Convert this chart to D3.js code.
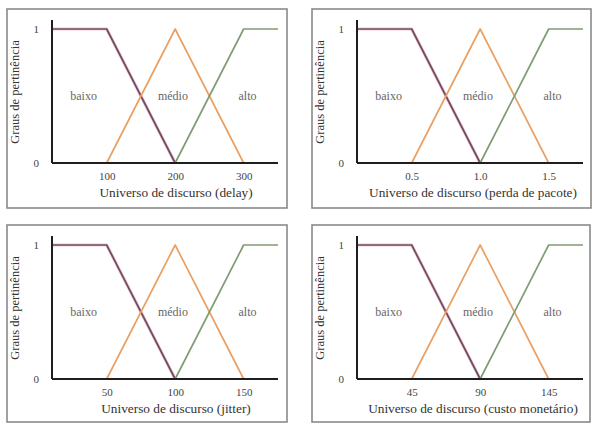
<!DOCTYPE html>
<html><head><meta charset="utf-8">
<script src="https://cdn.jsdelivr.net/npm/d3@7"></script>
<style>
body{margin:0;background:#fff;}
svg{display:block;}
svg text{font-family:"Liberation Serif","Times New Roman",serif;}
</style></head>
<body>
<svg id="c" width="595" height="423"></svg>
<script>
// ---- data ----
const titles = ["Universo de discurso (delay)", "Universo de discurso (perda de pacote)", "Universo de discurso (jitter)", "Universo de discurso (custo monetário)"];
const tickLabels = [["100","200","300"],["0.5","1.0","1.5"],["50","100","150"],["45","90","145"]];
const breakpoints = [[100,200,300],[0.5,1.0,1.5],[50,100,150],[45,90,145]];
const domainMin = [20, 0.1, 10, 9];
const domainMax = [350, 1.75, 175, 172];
const categories = ["baixo","médio","alto"];
const yTicks = [0, 1];
const yLabel = "Graus de pertinência";

// membership functions (x as breakpoint index: 0=min,1=t1,2=t2,3=t3,4=max)
const mfPoints = [
  [[0,1],[1,1],[2,0]],
  [[1,0],[2,1],[3,0]],
  [[2,0],[3,1],[4,1]]
];
const colors = ["#6f4c66", "#eaa062", "#809c74"];

// ---- layout ----
const frames = [
  {x:7, y:9, w:280, h:199, tx:169},
  {x:312, y:9, w:279, h:199, tx:161},
  {x:7, y:225, w:280, h:197, tx:169},
  {x:312, y:225, w:278, h:197, tx:161}
];
const svg = d3.select("#c");

frames.forEach((f, i) => {
  const g = svg.append("g").attr("transform", `translate(${f.x},${f.y})`);
  g.append("rect").attr("x",0).attr("y",0).attr("width",f.w).attr("height",f.h)
    .attr("fill","#fff").attr("stroke","#8a8a8a").attr("stroke-width",1.6);

  const ox = 45, oy = 154, right = 271, top = 11, y1 = 20;
  const w = right - ox;
  const dom = [domainMin[i], ...breakpoints[i], domainMax[i]];
  const x = d3.scaleLinear().domain(dom)
    .range([ox, ox + w*0.242, ox + w*0.545, ox + w*0.848, right]);
  const y = d3.scaleLinear().domain([0,1]).range([oy, y1]);

  mfPoints.forEach((pts, k) => {
    const line = d3.line().x(p => x(dom[p[0]])).y(p => y(p[1]));
    if (k === 0) {
      g.append("path").attr("d", line(pts)).attr("fill","none")
        .attr("stroke","#e7a4b0").attr("stroke-width",3.2).attr("opacity",0.6);
    }
    g.append("path").attr("d", line(pts)).attr("fill","none")
      .attr("stroke", colors[k]).attr("stroke-width", 1.7).attr("stroke-linejoin","round");
  });

  g.append("line").attr("x1",ox).attr("x2",ox).attr("y1",top).attr("y2",oy)
    .attr("stroke","#1e1e1e").attr("stroke-width",2);
  g.append("line").attr("x1",ox).attr("x2",right).attr("y1",oy).attr("y2",oy)
    .attr("stroke","#1e1e1e").attr("stroke-width",2);

  const xAxis = d3.axisBottom(x).tickValues(breakpoints[i]).tickSize(0)
    .tickFormat((d, j) => tickLabels[i][j]);
  const ax = g.append("g").attr("transform",`translate(0,${oy})`).call(xAxis);
  ax.select(".domain").remove();
  ax.selectAll("text").attr("dy", "1.25em")
    .style("font-size", "11px").attr("fill","#444");

  const yAxis = d3.axisLeft(y).tickValues(yTicks).tickSize(0).tickFormat(d3.format("d"));
  const ay = g.append("g").attr("transform",`translate(${ox},0)`).call(yAxis);
  ay.select(".domain").remove();
  ay.selectAll("text").attr("dx","-0.9em")
    .style("font-size", "11px").attr("fill","#444");
  ax.attr("font-family", null); ay.attr("font-family", null);

  const lblFr = [0.14, 0.535, 0.865];
  categories.forEach((c, k) => {
    g.append("text").attr("x", ox + w*lblFr[k]).attr("y", y(0.5) + 4)
      .attr("text-anchor","middle").style("font-size", "12px")
      .attr("fill","#666").text(c);
  });

  g.append("text").attr("x", f.tx).attr("y", oy + 34)
    .attr("text-anchor","middle").style("font-size", "13.3px")
    .attr("fill","#333").text(titles[i]);
  g.append("text").attr("transform", `translate(12,83) rotate(-90)`)
    .attr("text-anchor","middle").style("font-size", "12.5px")
    .attr("fill","#333").text(yLabel);
});
</script>
</body></html>
